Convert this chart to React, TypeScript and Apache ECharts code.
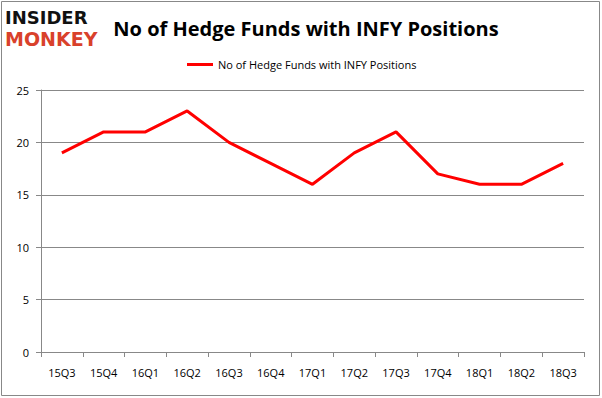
import React, { useEffect, useRef } from "react";
import * as echarts from "echarts";

const categories = ["15Q3", "15Q4", "16Q1", "16Q2", "16Q3", "16Q4", "17Q1", "17Q2", "17Q3", "17Q4", "18Q1", "18Q2", "18Q3"];
const values = [19, 21, 21, 23, 20, 18, 16, 19, 21, 17, 16, 16, 18];
const seriesName = "No of Hedge Funds with INFY Positions";
const titleText = "No of Hedge Funds with INFY Positions";

export default function App() {
  const ref = useRef<HTMLDivElement>(null);
  useEffect(() => {
    if (!ref.current) return;
    const chart = echarts.init(ref.current, null, { renderer: "svg" });
    chart.setOption({
      animation: false,
      backgroundColor: "#ffffff",
      title: {
        text: titleText,
        left: 301,
        top: 13,
        textAlign: "center",
        textStyle: { fontFamily: "Open Sans", fontWeight: "bold", fontSize: 20, color: "#000" },
      },
      legend: {
        top: 54,
        left: 182,
        itemWidth: 26,
        itemHeight: 3,
        itemGap: 4,
        icon: "rect",
        textStyle: { fontFamily: "Open Sans", fontSize: 11, color: "#000" },
        data: [seriesName],
      },
      grid: { left: 41, right: 18, top: 90, bottom: 46, containLabel: false },
      xAxis: {
        type: "category",
        data: categories,
        boundaryGap: true,
        axisLine: { lineStyle: { color: "#888", width: 1 } },
        axisTick: { show: true, length: 5, lineStyle: { color: "#888" } },
        axisLabel: { fontFamily: "Open Sans", fontSize: 11, color: "#000", margin: 15 },
      },
      yAxis: {
        type: "value",
        min: 0,
        max: 25,
        interval: 5,
        axisLine: { show: true, lineStyle: { color: "#888", width: 1 } },
        axisTick: { show: true, length: 5, lineStyle: { color: "#888" } },
        axisLabel: { fontFamily: "Open Sans", fontSize: 11, color: "#000", margin: 12 },
        splitLine: { lineStyle: { color: "#888", width: 1 } },
      },
      series: [
        {
          name: seriesName,
          type: "line",
          data: values,
          symbol: "none",
          lineStyle: { color: "#ff0000", width: 3 },
          itemStyle: { color: "#ff0000" },
        },
      ],
      graphic: [
        {
          type: "rect",
          shape: { x: 1.5, y: 1.5, width: 598, height: 394 },
          style: { fill: "none", stroke: "#888", lineWidth: 1 },
          silent: true,
        },
        {
          type: "text",
          x: 5,
          y: 8,
          style: {
            text: "INSIDER",
            fontFamily: "DejaVu Sans",
            fontWeight: "bold",
            fontSize: 18,
            fill: "#111",
          },
        },
        {
          type: "text",
          x: 5,
          y: 29,
          style: {
            text: "MONKEY",
            fontFamily: "DejaVu Sans",
            fontWeight: "bold",
            fontSize: 19,
            fill: "#d9412b",
          },
        },
      ],
    });
    return () => chart.dispose();
  }, []);
  return <div ref={ref} style={{ width: 602, height: 398, position: "absolute", left: 0, top: 0 }} />;
}
